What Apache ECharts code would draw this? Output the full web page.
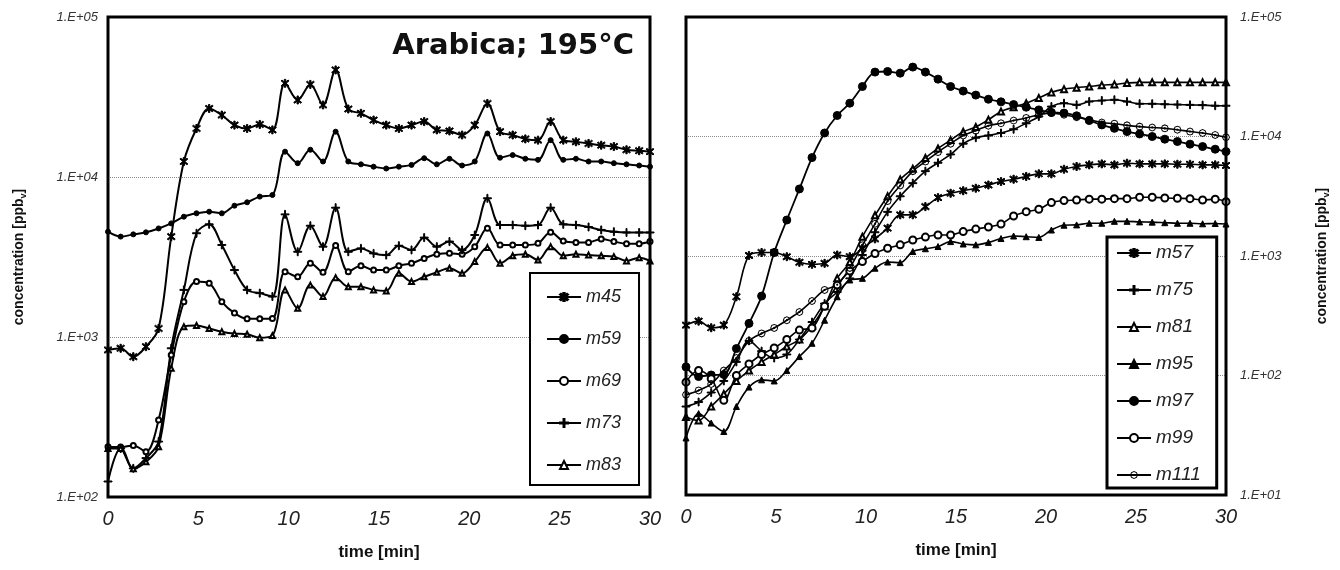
<!DOCTYPE html>
<html><head><meta charset="utf-8">
<script src="https://cdn.jsdelivr.net/npm/echarts@6/dist/echarts.min.js"></script>
<style>html,body{margin:0;padding:0;background:#fff}#c{width:1340px;height:570px}</style>
</head><body><div id="c"></div>
<script>
// time axis (min)
const time = [0,0.7,1.4,2.1,2.8,3.5,4.2,4.9,5.6,6.3,7,7.7,8.4,9.1,9.8,10.5,11.2,11.9,12.6,13.3,14,14.7,15.4,16.1,16.8,17.5,18.2,18.9,19.6,20.3,21,21.7,22.4,23.1,23.8,24.5,25.2,25.9,26.6,27.3,28,28.7,29.4,30];
// left panel (ppbv)
const m45 = [830,850,753,870,1130,4240,12500,20100,26800,24400,21100,20100,21300,19700,38500,30300,37900,28200,46700,26600,25000,22700,21100,20100,21100,22200,19700,19400,18300,21100,28800,19200,18300,17300,17000,22200,17000,16600,16200,15800,15500,14800,14600,14400];
const m59 = [4550,4240,4380,4510,4770,5130,5650,5930,6070,5930,6620,6950,7540,7720,14400,12200,14800,12500,19200,12500,12000,11600,11300,11600,11900,13100,12000,13000,11800,12500,18700,13200,13700,13000,12800,17000,12800,13000,12500,12500,12200,12000,11800,11600];
const m69 = [206,205,210,192,303,772,1660,2220,2165,1660,1410,1300,1300,1305,2560,2380,2890,2540,3730,2560,2790,2620,2620,2790,2890,3100,3290,3340,3290,3670,4780,3760,3760,3760,3850,4510,3980,3900,3900,4100,3950,3830,3830,3950];
const m73 = [125,201,151,175,222,850,1970,4450,5060,3760,2620,1970,1880,1790,5840,3410,4960,3670,6430,3410,3580,3330,3250,3720,3500,4180,3670,3950,3500,4340,7360,5010,5010,4960,5010,6430,5060,5010,4870,4670,4550,4500,4500,4500];
const m83 = [201,201,150,166,206,637,1160,1180,1130,1080,1050,1040,990,1020,1970,1510,2110,1790,2350,2060,2060,1970,1940,2500,2220,2380,2540,2690,2500,2960,3620,2890,3220,3290,3030,3670,3220,3290,3250,3220,3180,2990,3130,2990];
// right panel (ppbv)
const m57 = [264,285,251,264,456,1010,1070,1070,987,885,851,868,1020,987,1160,1390,1710,2210,2210,2590,3080,3350,3520,3690,3930,4200,4390,4630,4870,4870,5320,5610,5790,5900,5790,5980,5900,5900,5900,5860,5860,5790,5790,5720];
const m75 = [55,60,72,90,130,195,160,140,150,200,280,400,500,650,1020,1580,2340,3160,4070,5130,6030,7080,8710,9770,10200,10700,11500,12900,14700,17800,19000,18400,19600,20000,20300,19600,18800,18800,18600,18500,18400,18300,18100,18100];
const m81 = [45,42,55,70,90,110,130,150,175,200,260,380,650,890,1450,2190,3160,4370,5370,6610,7940,9330,10960,12020,13800,16200,17600,19000,21000,23400,24900,25600,26200,26900,27300,28000,28400,28400,28400,28400,28400,28400,28400,28400];
const m95 = [30,48,40,34,55,80,92,90,110,144,186,290,456,630,650,790,890,880,1090,1150,1200,1320,1260,1240,1300,1400,1470,1450,1430,1650,1810,1820,1880,1880,1950,1950,1930,1920,1900,1880,1880,1860,1870,1850];
const m97 = [118,98,101,102,168,273,462,1070,2000,3640,6660,10700,15000,19000,26200,34600,35000,33900,38100,34600,30200,26200,24000,22200,20500,19500,18500,17600,16700,15900,15700,14900,13600,12500,11700,11000,10500,10000,9500,9080,8630,8240,7830,7480];
const m99 = [88,110,94,62,100,125,150,170,200,240,250,380,570,750,900,1050,1160,1240,1360,1440,1500,1500,1600,1680,1750,1850,2160,2350,2460,2800,2910,2940,2990,2990,3020,3020,3100,3100,3060,3040,3020,2940,2990,2850];
const m111 = [69,75,85,110,140,195,225,250,290,340,420,520,575,795,1230,1860,2880,3890,5130,6170,7410,8710,10200,11200,12300,12900,13600,14300,15200,15700,15200,14500,13800,13100,12800,12400,12100,11900,11700,11400,11000,10700,10300,9860];

const STAR = 'path://M-0.7,-5L0.7,-5L0.7,5L-0.7,5Z M-4.1,-3.1L-3.1,-4.1L4.1,3.1L3.1,4.1Z M3.1,-4.1L4.1,-3.1L-3.1,4.1L-4.1,3.1Z';
const PLUS = 'path://M-0.6,-5L0.6,-5L0.6,5L-0.6,5Z M-5,-0.6L5,-0.6L5,0.6L-5,0.6Z';
// ring (outer clockwise, inner counter-clockwise) with a centre dot
const RINGDOT = 'path://M0,-5L3.54,-3.54L5,0L3.54,3.54L0,5L-3.54,3.54L-5,0L-3.54,-3.54Z ' +
  'M0,-3.7L-2.62,-2.62L-3.7,0L-2.62,2.62L0,3.7L2.62,2.62L3.7,0L2.62,-2.62Z ' +
  'M0,-1.4L0.99,-0.99L1.4,0L0.99,0.99L0,1.4L-0.99,0.99L-1.4,0L-0.99,-0.99Z';

const pairs = arr => time.map((t,i)=>[t,arr[i]]);
const fmtE = v => { const e = Math.round(Math.log10(v)); return '1.E+' + (e<10?'0':'') + e; };
const FONT = 'Liberation Sans, Arial, sans-serif';

function mk(name, arr, grid, symbol, size, lw, bw){
  return {name, type:'line', xAxisIndex:grid, yAxisIndex:grid, data:pairs(arr),
    smooth:0.35, symbol, symbolSize:size, showSymbol:true,
    lineStyle:{color:'#000', width:lw}, itemStyle:{color:'#000', borderColor:'#000', borderWidth:(bw===undefined?1:bw)},
    emphasis:{disabled:true}, z:3};
}

const yCommon = {type:'log', logBase:10, splitLine:{show:true, lineStyle:{color:'#8a8a8a', type:'dotted', width:1}},
  axisLine:{show:false}, axisTick:{show:false}, minorTick:{show:false},
  axisLabel:{formatter:fmtE, fontStyle:'italic', fontSize:13, color:'#333', fontFamily:FONT}};
const xCommon = {type:'value', min:0, max:30, interval:5, splitLine:{show:false}, axisLine:{show:false}, axisTick:{show:false},
  axisLabel:{fontStyle:'italic', fontSize:20, color:'#222', margin:12, fontFamily:FONT},
  name:'time [min]', nameLocation:'middle', nameGap:47,
  nameTextStyle:{fontWeight:'bold', fontSize:17, color:'#111', fontFamily:FONT}};
const yName = {rich:{a:{fontWeight:'bold', fontSize:14, color:'#111', fontFamily:FONT}, s:{fontWeight:'bold', fontSize:9, color:'#111', fontFamily:FONT, padding:[8,0,0,0]}}};

const legendBase = {orient:'vertical', backgroundColor:'#fff', borderColor:'#000', selectedMode:false,
  itemWidth:34, itemHeight:10, textStyle:{fontStyle:'italic', color:'#222', fontFamily:FONT, lineHeight:20}};

const option = {
  animation:false,
  backgroundColor:'#fff',
  title:{text:'Arabica; 195°C', right:701, top:27, textStyle:{fontSize:29, fontWeight:'bold', color:'#111', fontFamily:'DejaVu Sans, sans-serif'}},
  grid:[
    {left:108, top:17, width:542, height:480, show:false},
    {left:686, top:17, width:540, height:478, show:false}
  ],
  graphic:[
    {type:'rect', z:100, shape:{x:108, y:17, width:542, height:480}, style:{fill:'none', stroke:'#000', lineWidth:3}},
    {type:'rect', z:100, shape:{x:686, y:17, width:540, height:478}, style:{fill:'none', stroke:'#000', lineWidth:3}}
  ],
  xAxis:[Object.assign({gridIndex:0}, xCommon), Object.assign({gridIndex:1}, xCommon)],
  yAxis:[
    Object.assign({}, yCommon, {gridIndex:0, min:100, max:100000, position:'left',
      axisLabel:Object.assign({}, yCommon.axisLabel, {margin:10}),
      name:'{a|concentration [ppb}{s|v}{a|]}', nameLocation:'middle', nameRotate:90, nameGap:80, nameTextStyle:yName}),
    Object.assign({}, yCommon, {gridIndex:1, min:10, max:100000, position:'right',
      axisLabel:Object.assign({}, yCommon.axisLabel, {margin:14}),
      name:'{a|concentration [ppb}{s|v}{a|]}', nameLocation:'middle', nameRotate:90, nameGap:88, nameTextStyle:yName})
  ],
  legend:[
    Object.assign({}, legendBase, {data:['m45','m59','m69','m73','m83'], left:530, top:273, borderWidth:2,
      padding:[14,18,10,16], itemGap:22, textStyle:Object.assign({}, legendBase.textStyle, {fontSize:18})}),
    Object.assign({}, legendBase, {data:['m57','m75','m81','m95','m97','m99','m111'], left:1107, top:237, borderWidth:3,
      padding:[6,16,3,9], itemGap:17, textStyle:Object.assign({}, legendBase.textStyle, {fontSize:19})})
  ],
  series:[
    mk('m45', m45, 0, STAR, 8, 2),
    mk('m59', m59, 0, 'circle', 5, 2),
    mk('m69', m69, 0, 'emptyCircle', 5, 2),
    mk('m73', m73, 0, PLUS, 8, 2),
    mk('m83', m83, 0, 'emptyTriangle', 5, 2),
    mk('m57', m57, 1, STAR, 8, 1.6),
    mk('m75', m75, 1, PLUS, 8, 1.6),
    mk('m81', m81, 1, 'emptyTriangle', 6, 1.6),
    mk('m95', m95, 1, 'triangle', 6, 1.6),
    mk('m97', m97, 1, 'circle', 8, 1.8),
    mk('m99', m99, 1, 'emptyCircle', 7, 1.6),
    mk('m111', m111, 1, RINGDOT, 8, 1.6, 0)
  ]
};
const chart = echarts.init(document.getElementById('c'), null, {renderer:'canvas'});
chart.setOption(option);
</script></body></html>
